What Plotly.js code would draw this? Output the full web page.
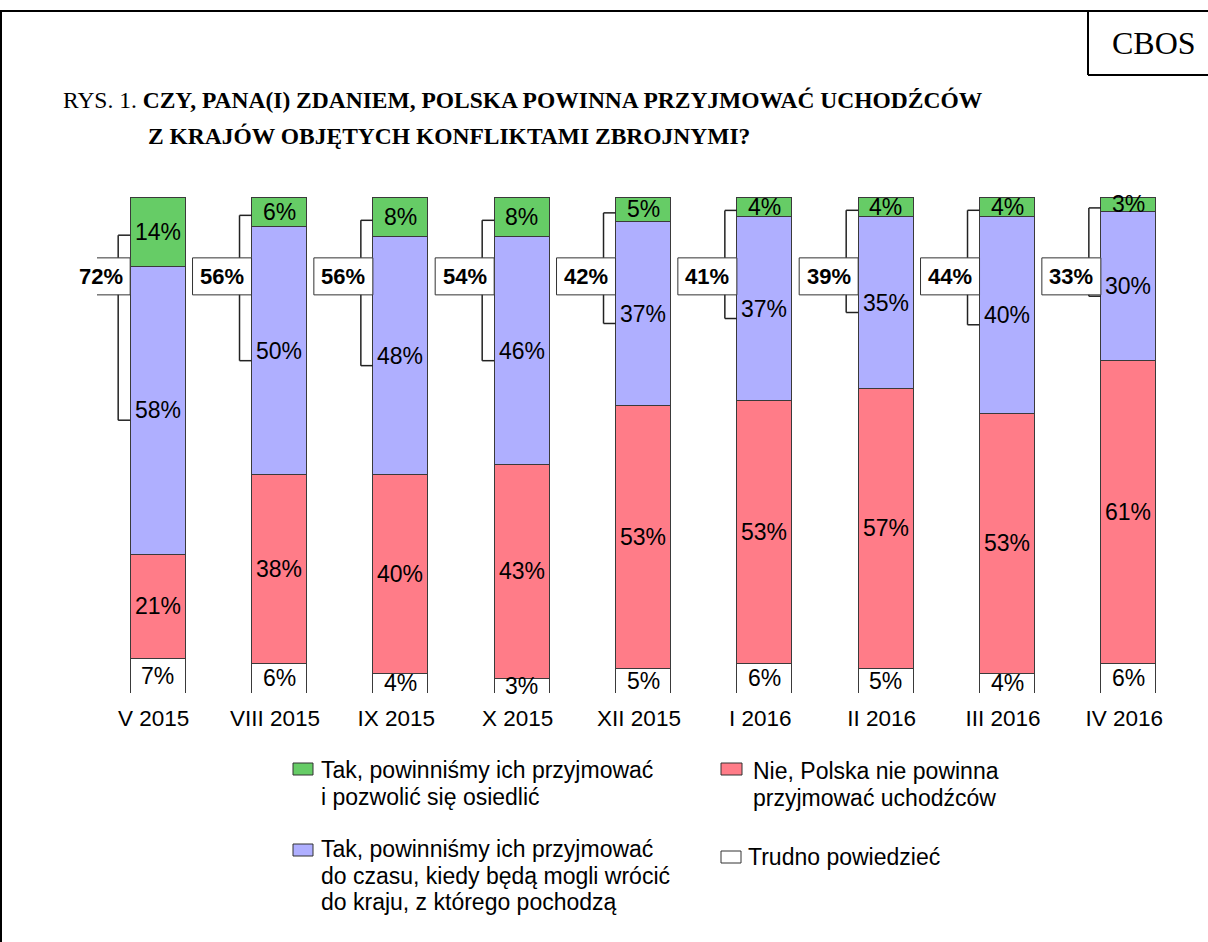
<!DOCTYPE html>
<html>
<head>
<meta charset="utf-8">
<script src="https://cdn.plot.ly/plotly-3.0.1.min.js"></script>
<style>html,body{margin:0;padding:0;background:#fff;}#chart{width:1208px;height:942px;}</style>
</head>
<body>
<div id="chart"></div>
<script>
// ---- data ----
const categories = ['V 2015','VIII 2015','IX 2015','X 2015','XII 2015','I 2016','II 2016','III 2016','IV 2016'];
const takOsiedlic = [14, 6, 8, 8, 5, 4, 4, 4, 3];       // Tak, ... i pozwolić się osiedlić
const takDoCzasu  = [58, 50, 48, 46, 37, 37, 35, 40, 30]; // Tak, ... do czasu, kiedy będą mogli wrócić
const nie         = [21, 38, 40, 43, 53, 53, 57, 53, 61]; // Nie, Polska nie powinna ...
const trudno      = [7, 6, 4, 3, 5, 6, 5, 4, 6];          // Trudno powiedzieć
const takRazem    = [72, 56, 56, 54, 42, 41, 39, 44, 33]; // łącznie "Tak"

const seriesNames = [
  'Trudno powiedzieć',
  'Nie, Polska nie powinna przyjmować uchodźców',
  'Tak, powinniśmy ich przyjmować do czasu, kiedy będą mogli wrócić do kraju, z którego pochodzą',
  'Tak, powinniśmy ich przyjmować i pozwolić się osiedlić'
];
const seriesValues = [trudno, nie, takDoCzasu, takOsiedlic];
const seriesColors = ['#FFFFFF', '#FF7C88', '#AFAFFF', '#66CC66'];

// ---- geometry ----
const W = 1208, H = 942;
const M = {l: 97, r: 19, t: 197, b: 249};
const PW = W - M.l - M.r, PH = H - M.t - M.b;
const px = x => (x - M.l) / PW;
const py = y => (H - M.b - y) / PH;
const BAR_W = 0.453;
const catPx = PW / categories.length;
const FONT = 'Liberation Sans, Arial, sans-serif';
const SERIF = 'Liberation Serif, Times New Roman, serif';

const traces = seriesValues.map((vals, s) => ({
  type: 'bar',
  x: categories,
  y: vals,
  name: seriesNames[s],
  width: BAR_W,
  marker: {color: seriesColors[s], line: {color: '#3a3a3a', width: 1}},
  hoverinfo: 'skip',
  showlegend: false
}));

const shapes = [];
const annotations = [];

// value labels at segment centres (normalised like barnorm 'percent')
categories.forEach((c, i) => {
  const tot = seriesValues.reduce((a, v) => a + v[i], 0);
  let cum = 0;
  const centers = [];
  seriesValues.forEach((vals, s) => {
    const h = vals[i] / tot * 100;
    centers.push(cum + h / 2);
    annotations.push({
      x: i, y: cum + h / 2, xref: 'x', yref: 'y',
      text: vals[i] + '%', showarrow: false,
      font: {family: FONT, size: 23, color: '#000'},
      xanchor: 'center', yanchor: 'middle'
    });
    cum += h;
  });
  // bracket joining both "Tak" answers
  const left = i - BAR_W / 2;
  const bx = left - 12 / catPx;
  const top = centers[3] - 0.7;
  const bot = centers[2] - 2;
  const lineStyle = {color: '#222', width: 1.5};
  shapes.push({type: 'line', xref: 'x', yref: 'y', x0: left, x1: bx, y0: top, y1: top, line: lineStyle});
  shapes.push({type: 'line', xref: 'x', yref: 'y', x0: bx, x1: bx, y0: top, y1: bot, line: lineStyle});
  shapes.push({type: 'line', xref: 'x', yref: 'y', x0: bx, x1: left, y0: bot, y1: bot, line: lineStyle});
  const bc = 84, bh = 37 / PH * 100 / 2;
  const bl = left - 59 / catPx;
  shapes.push({type: 'rect', xref: 'x', yref: 'y', x0: bl, x1: left, y0: bc - bh, y1: bc + bh,
    fillcolor: '#fff', line: {color: '#333', width: 1}});
  annotations.push({
    x: (bl + left) / 2, y: bc, xref: 'x', yref: 'y',
    text: '<b>' + takRazem[i] + '%</b>', showarrow: false,
    font: {family: FONT, size: 22, color: '#000'},
    xanchor: 'center', yanchor: 'middle'
  });
});

// frame and CBOS box
const frame = {color: '#000', width: 2};
shapes.push({type: 'line', xref: 'paper', yref: 'paper', x0: px(1), x1: px(1), y0: py(10), y1: py(945), line: frame});
shapes.push({type: 'line', xref: 'paper', yref: 'paper', x0: px(0), x1: px(1210), y0: py(11), y1: py(11), line: frame});
shapes.push({type: 'line', xref: 'paper', yref: 'paper', x0: px(1088), x1: px(1088), y0: py(11), y1: py(75), line: frame});
shapes.push({type: 'line', xref: 'paper', yref: 'paper', x0: px(1088), x1: px(1210), y0: py(75), y1: py(75), line: frame});
annotations.push({xref: 'paper', yref: 'paper', x: px(1154), y: py(43), text: 'CBOS', showarrow: false,
  font: {family: SERIF, size: 32, color: '#000'}, xanchor: 'center', yanchor: 'middle'});

// title
annotations.push({xref: 'paper', yref: 'paper', x: px(61), y: py(100), xanchor: 'left', yanchor: 'middle', showarrow: false,
  text: 'RYS. 1. <b>CZY, PANA(I) ZDANIEM, POLSKA POWINNA PRZYJMOWAĆ UCHODŹCÓW</b>',
  font: {family: SERIF, size: 23.5, color: '#000'}});
annotations.push({xref: 'paper', yref: 'paper', x: px(146), y: py(136), xanchor: 'left', yanchor: 'middle', showarrow: false,
  text: '<b>Z KRAJÓW OBJĘTYCH KONFLIKTAMI ZBROJNYMI?</b>',
  font: {family: SERIF, size: 23.5, color: '#000'}});

// custom legend
const legendItems = [
  {s: 3, box: [293, 313, 763, 775], tx: 319, lines: ['Tak, powinniśmy ich przyjmować', 'i pozwolić się osiedlić'], y0: 770},
  {s: 2, box: [293, 313, 844, 856], tx: 319, lines: ['Tak, powinniśmy ich przyjmować', 'do czasu, kiedy będą mogli wrócić', 'do kraju, z którego pochodzą'], y0: 849},
  {s: 1, box: [721, 742, 763, 775], tx: 751, lines: ['Nie, Polska nie powinna', 'przyjmować uchodźców'], y0: 771},
  {s: 0, box: [721, 741, 851, 863], tx: 746, lines: ['Trudno powiedzieć'], y0: 857}
];
legendItems.forEach(it => {
  shapes.push({type: 'rect', xref: 'paper', yref: 'paper',
    x0: px(it.box[0]), x1: px(it.box[1]), y0: py(it.box[3]), y1: py(it.box[2]),
    fillcolor: seriesColors[it.s], line: {color: '#333', width: 1}});
  it.lines.forEach((t, k) => {
    annotations.push({xref: 'paper', yref: 'paper', x: px(it.tx), y: py(it.y0 + k * 26.5),
      xanchor: 'left', yanchor: 'middle', showarrow: false, text: t,
      font: {family: FONT, size: 23, color: '#000'}});
  });
});

const layout = {
  width: W, height: H,
  margin: M,
  paper_bgcolor: '#fff', plot_bgcolor: '#fff',
  barmode: 'stack', barnorm: 'percent',
  showlegend: false,
  xaxis: {type: 'category', range: [-0.5, categories.length - 0.5], showgrid: false, zeroline: false,
    showline: false, ticks: '', ticklabelstandoff: 9, ticklabelshift: -4,
    tickfont: {family: FONT, size: 22.5, color: '#000'}, fixedrange: true},
  yaxis: {range: [0, 100], visible: false, fixedrange: true},
  shapes: shapes,
  annotations: annotations
};

Plotly.newPlot('chart', traces, layout, {displayModeBar: false, staticPlot: true});
</script>
</body>
</html>
